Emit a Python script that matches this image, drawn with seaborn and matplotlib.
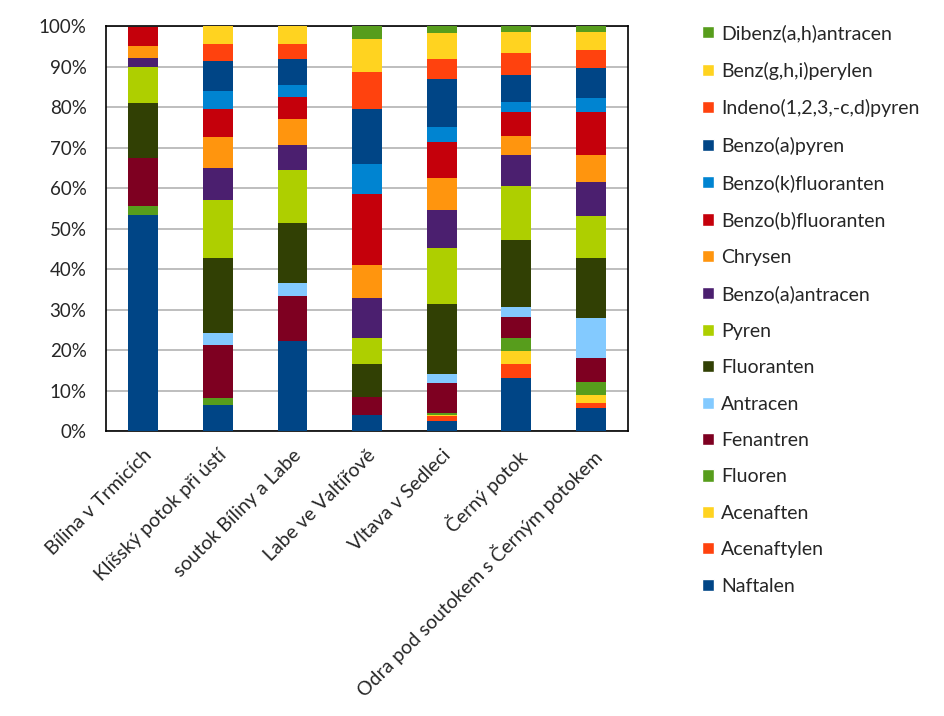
import numpy as np
import pandas as pd
import seaborn as sns
import matplotlib.pyplot as plt
from matplotlib.patches import Patch
from matplotlib.ticker import PercentFormatter

# Lokality
lokality = ['Bílina v Trmicích', 'Klíšský potok při ústí', 'soutok Bíliny a Labe',
            'Labe ve Valtířově', 'Vltava v Sedleci', 'Černý potok',
            'Odra pod soutokem s Černým potokem']

# Podíly jednotlivých PAU (%)
naftalen = [53.3, 6.4, 22.2, 4.0, 2.5, 13.1, 5.7]
acenaftylen = [0.0, 0.0, 0.0, 0.0, 1.2, 3.4, 1.2]
acenaften = [0.0, 0.0, 0.0, 0.0, 0.2, 3.3, 2.0]
fluoren = [2.2, 1.7, 0.0, 0.0, 0.5, 3.2, 3.2]
fenantren = [11.9, 13.1, 11.1, 4.4, 7.5, 5.1, 5.9]
antracen = [0.0, 3.0, 3.2, 0.0, 2.2, 2.5, 9.9]
fluoranten = [13.7, 18.5, 14.9, 8.1, 17.3, 16.6, 14.8]
pyren = [8.9, 14.3, 13.0, 6.5, 13.8, 13.3, 10.4]
benzo_a_antracen = [2.2, 7.9, 6.2, 9.8, 9.4, 7.6, 8.4]
chrysen = [3.0, 7.7, 6.4, 8.2, 7.9, 4.7, 6.6]
benzo_b_fluoranten = [4.5, 6.9, 5.5, 17.5, 8.9, 6.0, 10.7]
benzo_k_fluoranten = [0.0, 4.5, 2.9, 7.4, 3.7, 2.4, 3.4]
benzo_a_pyren = [0.0, 7.4, 6.5, 13.6, 11.8, 6.7, 7.4]
indeno_pyren = [0.0, 4.2, 3.7, 9.1, 5.0, 5.4, 4.5]
benz_ghi_perylen = [0.0, 4.4, 4.4, 8.2, 6.4, 5.2, 4.4]
dibenz_ah_antracen = [0.0, 0.0, 0.0, 3.2, 1.7, 1.5, 1.5]

latky = ['Naftalen', 'Acenaftylen', 'Acenaften', 'Fluoren', 'Fenantren', 'Antracen',
         'Fluoranten', 'Pyren', 'Benzo(a)antracen', 'Chrysen', 'Benzo(b)fluoranten',
         'Benzo(k)fluoranten', 'Benzo(a)pyren', 'Indeno(1,2,3,-c,d)pyren',
         'Benz(g,h,i)perylen', 'Dibenz(a,h)antracen']
hodnoty = [naftalen, acenaftylen, acenaften, fluoren, fenantren, antracen, fluoranten,
           pyren, benzo_a_antracen, chrysen, benzo_b_fluoranten, benzo_k_fluoranten,
           benzo_a_pyren, indeno_pyren, benz_ghi_perylen, dibenz_ah_antracen]

barvy = ['#004586', '#ff420e', '#ffd320', '#579d1c', '#7e0021', '#83caff',
         '#314004', '#aecf00', '#4b1f6f', '#ff950e', '#c5000b', '#0084d1',
         '#004586', '#ff420e', '#ffd320', '#579d1c']

sns.set_style('white')
plt.rcParams['font.family'] = ['Lato', 'DejaVu Sans']

fig = plt.figure(figsize=(9.45, 7.16), dpi=100)
ax = fig.add_axes([0.1122, 0.398, 0.5524, 0.5656])

# Skládané sloupce
spodek = np.zeros(len(lokality))
for latka, vals, barva in zip(latky, hodnoty, barvy):
    df = pd.DataFrame({'lokalita': lokality, 'podil': vals})
    sns.barplot(data=df, x='lokalita', y='podil', color=barva, width=0.4,
                bottom=spodek.copy(), saturation=1, linewidth=0, ax=ax, zorder=3)
    spodek += np.array(vals)

ax.set_ylim(0, 100)
ax.set_xlim(-0.5, len(lokality) - 0.5)
ax.set_yticks(np.arange(0, 101, 10))
ax.yaxis.set_major_formatter(PercentFormatter(decimals=0))
ax.grid(axis='y', color='#b3b3b3', linewidth=1.2, zorder=0)
ax.set_xlabel('')
ax.set_ylabel('')
for s in ax.spines.values():
    s.set_color('black')
    s.set_linewidth(1.2)
ax.tick_params(axis='y', length=0, labelsize=13.5, pad=14)
ax.tick_params(axis='x', length=0, labelsize=14, pad=11)
plt.setp(ax.get_xticklabels(), rotation=45, ha='right', rotation_mode='anchor')

# Legenda
handles = [Patch(facecolor=b, label=l) for l, b in zip(latky, barvy)][::-1]
fig.legend(handles=handles, loc='upper left', bbox_to_anchor=(0.735, 0.977),
           frameon=False, fontsize=14, handlelength=0.58, handleheight=0.58,
           handletextpad=0.4, labelspacing=1.0, borderaxespad=0)

fig.savefig('out.png', dpi=100)
